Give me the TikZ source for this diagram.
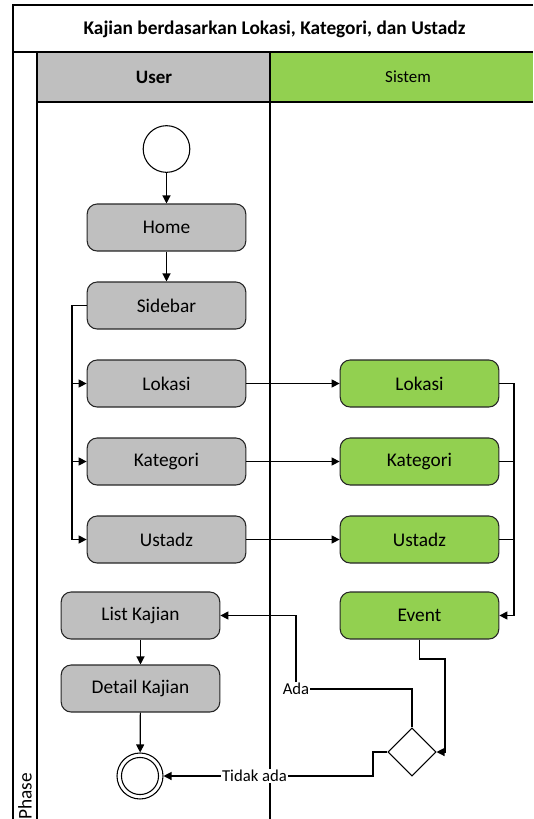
\documentclass[tikz,border=0pt]{standalone}
\usepackage{fontspec}
\setmainfont{Carlito}
\usetikzlibrary{arrows.meta,shapes.geometric}
\definecolor{usergray}{HTML}{BFBFBF}
\definecolor{sysgreen}{HTML}{92D050}
\begin{document}
\begin{tikzpicture}[x=0.75pt,y=-0.75pt,
  frameline/.style={line width=1pt, draw=black},
  act/.style={draw=black!85, line width=0.8pt, rounded corners=7.5pt,
    minimum width=119pt, minimum height=35.25pt, inner sep=0pt,
    font=\fontsize{14.5}{16}\selectfont},
  useract/.style={act, fill=usergray},
  sysact/.style={act, fill=sysgreen},
  conn/.style={line width=0.9pt, draw=black},
  arr/.style={conn, -{Triangle[length=6pt,width=6pt]}},
  guard/.style={fill=white, inner sep=0.5pt, font=\fontsize{12.5}{14}\selectfont}
]
\useasboundingbox (0,0) rectangle (533,819);

% pool frame, title band and lane headers
\fill[usergray] (37,52) rectangle (270,102);
\fill[sysgreen] (270,52) rectangle (533,102);
\draw[frameline] (13,819) -- (13,5) -- (533,5);
\draw[frameline] (13,52) -- (533,52);
\draw[frameline] (37,102) -- (533,102);
\draw[frameline] (37,52) -- (37,819);
\draw[line width=1.3pt] (270,52) -- (270,819);
\node[font=\fontsize{14.5}{16}\selectfont\bfseries] (title) at (274.5,29) {Kajian berdasarkan Lokasi, Kategori, dan Ustadz};
\node[font=\fontsize{14.2}{16}\selectfont\bfseries] (laneU) at (154,77) {User};
\node[font=\fontsize{12.7}{14}\selectfont] (laneS) at (408,77) {Sistem};
\node[rotate=90, anchor=east, inner sep=0pt, font=\fontsize{14.5}{16}\selectfont] (phase) at (25,773) {Phase};

% user lane
\node[circle, draw, line width=0.8pt, minimum size=35pt, inner sep=0pt] (start) at (166.5,149) {};
\node[useract] (home) at (166.5,227.5) {Home};
\node[useract] (sidebar) at (166.5,305.5) {Sidebar};
\node[useract] (lokU) at (166.5,383.5) {Lokasi};
\node[useract] (katU) at (166.5,461.5) {Kategori};
\node[useract] (ustU) at (166.5,539.5) {Ustadz};
\node[useract] (list) at (140.5,615.5) {List Kajian};
\node[useract] (detail) at (140.5,688.5) {Detail Kajian};
\node[circle, draw, line width=0.8pt, minimum size=34.5pt, inner sep=0pt] (endn) at (140,776) {};
\draw[line width=0.8pt] (endn.center) circle (13.9pt);

% system lane
\node[sysact] (lokS) at (419.5,383.5) {Lokasi};
\node[sysact] (katS) at (419.5,461.5) {Kategori};
\node[sysact] (ustS) at (419.5,539.5) {Ustadz};
\node[sysact] (event) at (419.5,615.5) {Event};
\node[diamond, draw, line width=0.8pt, minimum width=36pt, minimum height=36pt, inner sep=0pt, aspect=1] (dec) at (412,752) {};

% routing points
\coordinate (lbusTop) at (72,305.5);
\coordinate (lbusBot) at (72,539.5);
\coordinate (rbus) at (514,383.5);
\coordinate (evTurn) at (445,659);
\coordinate (ada) at (296,689);
\coordinate (noTurn) at (373,752);

% flow
\draw[arr] (start) -- (home);
\draw[arr] (home) -- (sidebar);
\draw[conn] (sidebar.west) -- (lbusTop) -- (lbusBot);
\draw[arr] (lbusTop |- lokU.west) -- (lokU.west);
\draw[arr] (lbusTop |- katU.west) -- (katU.west);
\draw[arr] (lbusBot) -- (ustU.west);
\draw[arr] (lokU) -- (lokS);
\draw[arr] (katU) -- (katS);
\draw[arr] (ustU) -- (ustS);
\draw[arr] (lokS.east) -- (rbus) |- (event.east);
\draw[conn] (katS.east) -- (katS.east -| rbus);
\draw[conn] (ustS.east) -- (ustS.east -| rbus);
\draw[arr] (event.south) |- (evTurn) |- (dec.east);
\draw[arr] (dec.north) |- (ada) |- (list.east);
\node[guard] (adaLbl) at (ada) {Ada};
\draw[arr] (dec.west) -- (noTurn) |- (endn.east);
\node[guard] (noLbl) at (254.5,776) {Tidak ada};
\draw[arr] (list) -- (detail);
\draw[arr] (detail) -- (endn);
\end{tikzpicture}
\end{document}
